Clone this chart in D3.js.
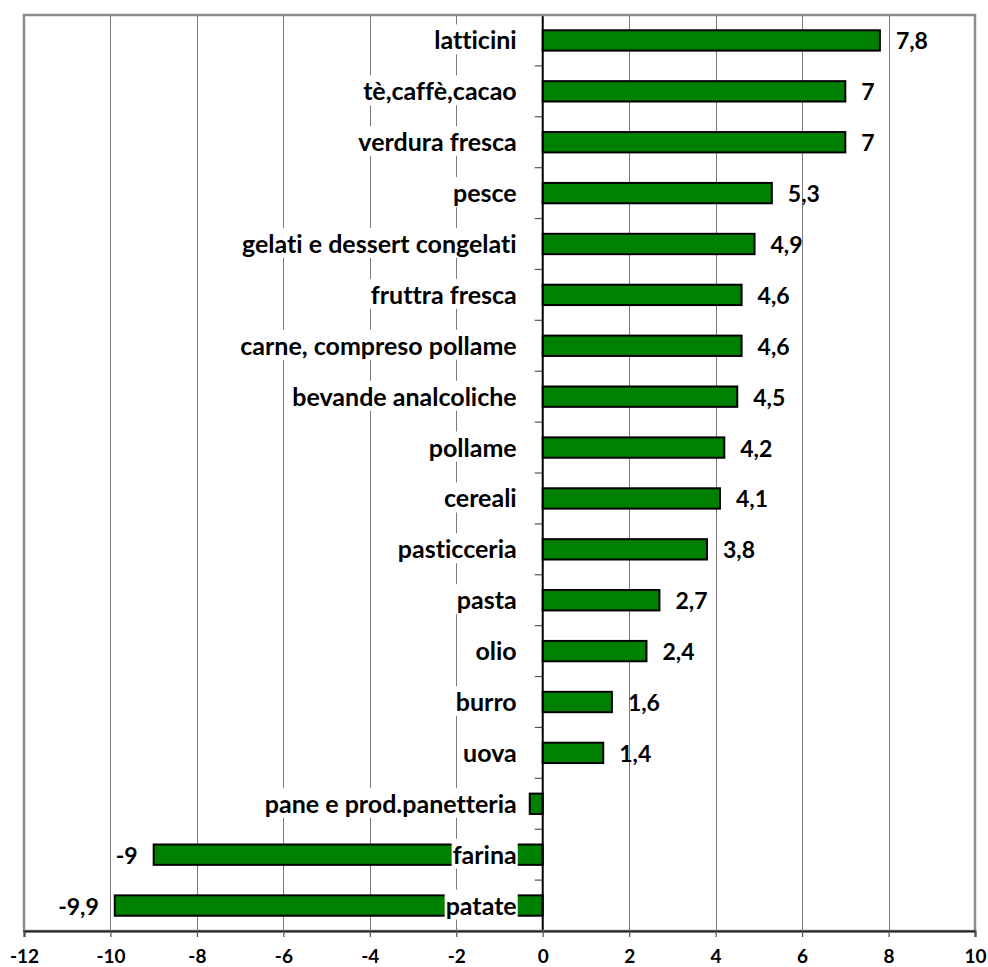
<!DOCTYPE html>
<html>
<head>
<meta charset="utf-8">
<script src="https://cdn.jsdelivr.net/npm/d3@7/dist/d3.min.js"></script>
<style>
  html, body { margin: 0; padding: 0; background: #fff; }
  svg { display: block; }
  text { font-family: Lato, "Open Sans", sans-serif; font-weight: bold; fill: #000;
         font-variant-ligatures: none; font-feature-settings: "liga" 0, "clig" 0; }
</style>
</head>
<body>
<svg id="chart" width="988" height="967"></svg>
<script>
// Variazione percentuale dei prezzi per categoria di prodotto
const categories = [
  "latticini", "tè,caffè,cacao", "verdura fresca", "pesce",
  "gelati e dessert congelati", "fruttra fresca", "carne, compreso pollame",
  "bevande analcoliche", "pollame", "cereali", "pasticceria", "pasta",
  "olio", "burro", "uova", "pane e prod.panetteria", "farina", "patate"
];
const values = [7.8, 7, 7, 5.3, 4.9, 4.6, 4.6, 4.5, 4.2, 4.1, 3.8, 2.7, 2.4, 1.6, 1.4, -0.3, -9, -9.9];
// the pane bar carries no value label
const valueLabels = ["7,8", "7", "7", "5,3", "4,9", "4,6", "4,6", "4,5", "4,2", "4,1", "3,8", "2,7", "2,4", "1,6", "1,4", "", "-9", "-9,9"];
const xTicks = [-12, -10, -8, -6, -4, -2, 0, 2, 4, 6, 8, 10];

const plot = { left: 24, right: 975, top: 15, bottom: 931 };
const svg = d3.select("#chart");

const x = d3.scaleLinear().domain([-12, 10]).range([plot.left, plot.right]);
const y = d3.scaleBand().domain(categories).range([plot.top, plot.bottom])
  .paddingInner(0.6).paddingOuter(0.3);
const rows = categories.map((c, i) => ({ c, v: values[i], lab: valueLabels[i] }));

// vertical gridlines
svg.append("g").selectAll("line").data(xTicks.filter(t => t !== 0 && t !== -12 && t !== 10)).join("line")
  .attr("x1", d => Math.round(x(d)) + 0.5).attr("x2", d => Math.round(x(d)) + 0.5)
  .attr("y1", plot.top).attr("y2", plot.bottom)
  .attr("stroke", "#7a7a7a").attr("stroke-width", 1);

// bars
svg.append("g").selectAll("rect").data(rows).join("rect")
  .attr("x", d => x(Math.min(0, d.v)))
  .attr("width", d => Math.abs(x(d.v) - x(0)))
  .attr("y", d => y(d.c))
  .attr("height", y.bandwidth())
  .attr("fill", "#008000").attr("stroke", "#000").attr("stroke-width", 2);

// category labels on a white background
const labelX = x(0) - 26;
const catG = svg.append("g");
const catLabels = catG.selectAll("g").data(rows).join("g");
catLabels.append("rect").attr("fill", "#fff");
catLabels.append("text")
  .attr("x", labelX)
  .attr("y", d => y(d.c) + y.bandwidth() / 2 + 9)
  .attr("text-anchor", "end")
  .style("font-size", "25px")
  .text(d => d.c);
catLabels.each(function() {
  const g = d3.select(this);
  const bb = g.select("text").node().getBBox();
  g.select("rect").attr("x", bb.x - 1).attr("y", bb.y).attr("width", bb.width + 2).attr("height", bb.height);
});

// y axis line with ticks at category boundaries
const bounds = d3.range(categories.length + 1).map(i => plot.top + (plot.bottom - plot.top) * i / categories.length);
svg.append("g").selectAll("line").data(bounds).join("line")
  .attr("x1", x(0) - 8).attr("x2", x(0))
  .attr("y1", d => d).attr("y2", d => d)
  .attr("stroke", "#555").attr("stroke-width", 1.2);
svg.append("line")
  .attr("x1", x(0)).attr("x2", x(0)).attr("y1", plot.top).attr("y2", plot.bottom)
  .attr("stroke", "#000").attr("stroke-width", 2);

// value labels
svg.append("g").selectAll("text").data(rows.filter(d => d.lab !== "")).join("text")
  .attr("x", d => d.v >= 0 ? x(d.v) + 16 : x(d.v) - 16)
  .attr("y", d => y(d.c) + y.bandwidth() / 2 + 9)
  .attr("text-anchor", d => d.v >= 0 ? "start" : "end")
  .style("font-size", "23px")
  .text(d => d.lab);

// frame
svg.append("rect")
  .attr("x", plot.left).attr("y", plot.top)
  .attr("width", plot.right - plot.left).attr("height", plot.bottom - plot.top)
  .attr("fill", "none").attr("stroke", "#8c8c8c").attr("stroke-width", 2.5);

// x axis
const xAxis = svg.append("g").attr("transform", `translate(0,${plot.bottom})`)
  .call(d3.axisBottom(x).tickValues(xTicks).tickSize(6).tickPadding(13)
    .tickFormat(d => String(d)));
xAxis.select(".domain").attr("stroke", "#222").attr("stroke-width", 2);
xAxis.selectAll(".tick line").attr("stroke", "#555").attr("stroke-width", 1.2);
xAxis.selectAll(".tick text").style("font-size", "19px").style("font-family", "Lato, sans-serif").style("font-weight", "bold").attr("fill", "#000");
</script>
</body>
</html>
